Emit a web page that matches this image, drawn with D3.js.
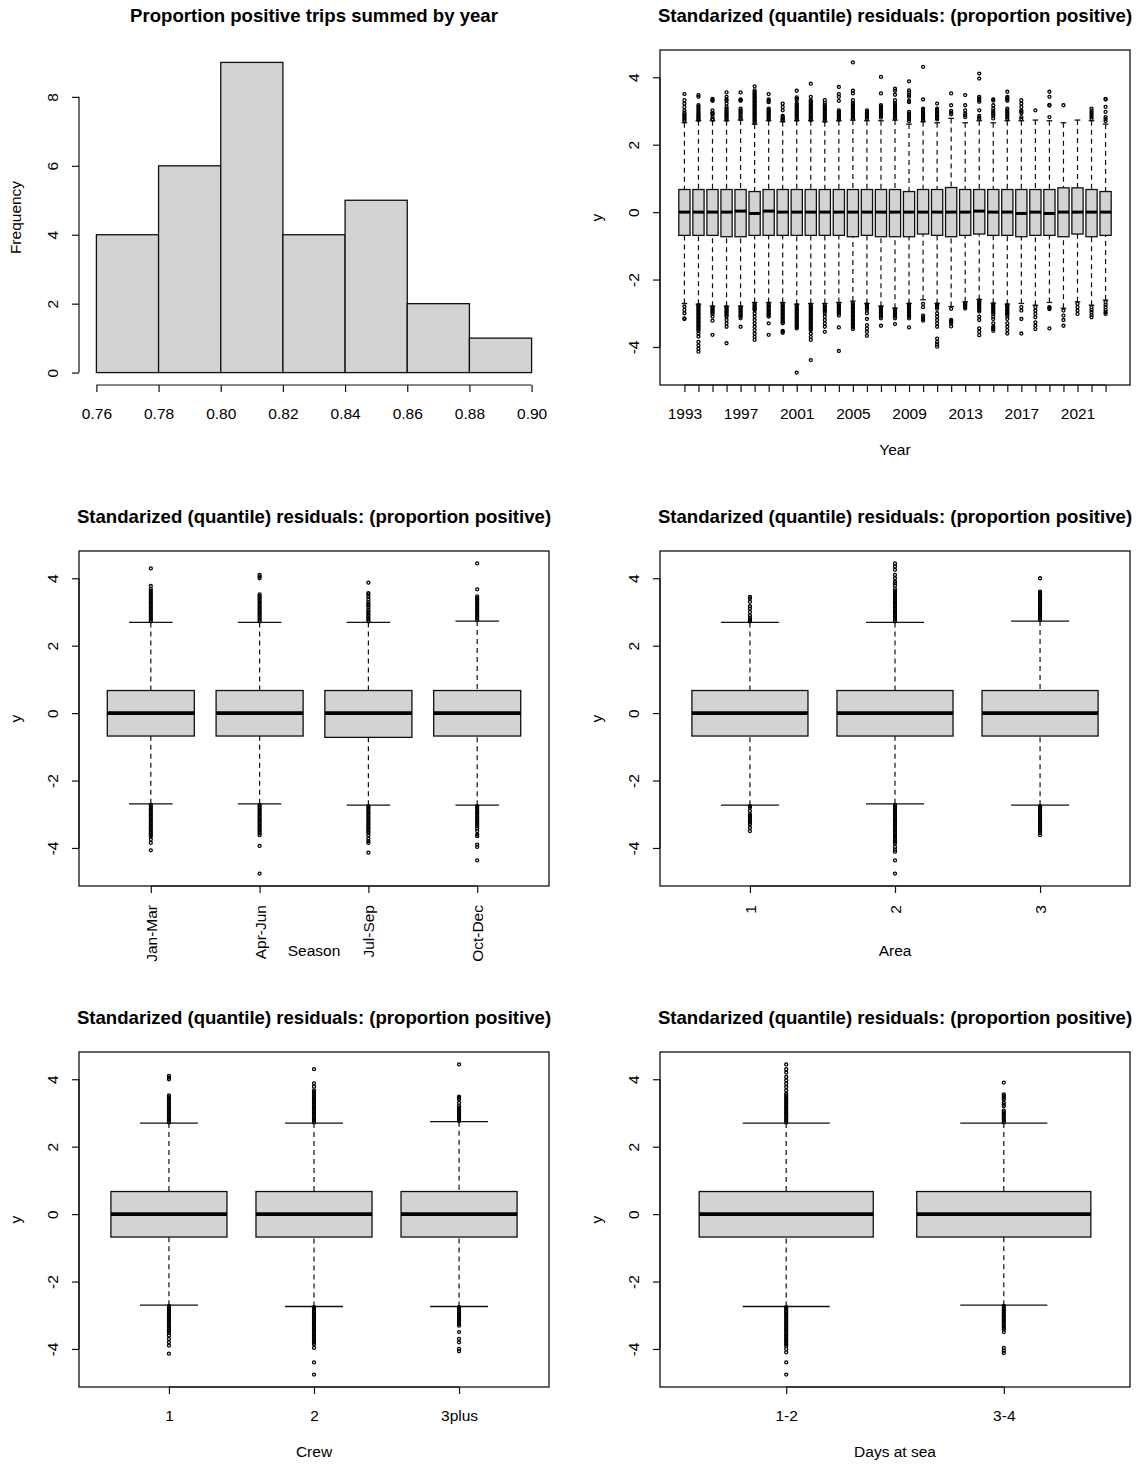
<!DOCTYPE html>
<html>
<head>
<meta charset="utf-8">
<script src="https://cdn.jsdelivr.net/npm/d3@7"></script>
<style>
  body { margin: 0; background: #fff; }
  text { font-family: "Liberation Sans", Arial, sans-serif; fill: #000; }
</style>
</head>
<body>
<svg id="chart" width="1138" height="1464"></svg>
<script>
// ---- histogram ----
const histBreaks = [0.76, 0.78, 0.80, 0.82, 0.84, 0.86, 0.88, 0.90];
const histCounts = [4, 6, 9, 4, 5, 2, 1];
const histYTicks = [0, 2, 4, 6, 8];

// ---- residual axis ticks ----
const resTicks = [-4, -2, 0, 2, 4];

// ---- year ----
const years = [1993,1994,1995,1996,1997,1998,1999,2000,2001,2002,2003,2004,2005,2006,2007,2008,
  2009,2010,2011,2012,2013,2014,2015,2016,2017,2018,2019,2020,2021,2022,2023];
const yearLabels = [1993, 1997, 2001, 2005, 2009, 2013, 2017, 2021];
const yearLo = [-2.71,-2.73,-2.79,-2.79,-2.79,-2.68,-2.68,-2.68,-2.73,-2.71,-2.71,-2.68,-2.64,-2.71,-2.79,-2.85,
  -2.71,-2.6,-2.71,-2.8,-2.66,-2.59,-2.7,-2.73,-2.71,-2.76,-2.68,-2.85,-2.66,-2.76,-2.61];
const yearQ1 = [-0.69,-0.69,-0.69,-0.73,-0.73,-0.69,-0.69,-0.69,-0.69,-0.69,-0.69,-0.69,-0.73,-0.69,-0.73,-0.73,
  -0.73,-0.65,-0.69,-0.73,-0.69,-0.65,-0.69,-0.69,-0.73,-0.69,-0.69,-0.73,-0.65,-0.73,-0.69];
const yearMed = [0,0,0,0,0.03,-0.04,0.03,0,0,0,0,0,0,0,0,0,0,0,0,0,0,0.03,0,0,-0.04,0,-0.04,0,0,0,0];
const yearQ3 = [0.67,0.67,0.67,0.67,0.67,0.61,0.67,0.67,0.67,0.67,0.67,0.67,0.67,0.67,0.67,0.67,
  0.61,0.67,0.67,0.73,0.67,0.67,0.67,0.67,0.67,0.67,0.67,0.72,0.72,0.67,0.61];
const yearHi = [2.65,2.71,2.71,2.71,2.73,2.61,2.71,2.68,2.71,2.71,2.68,2.71,2.73,2.71,2.71,2.73,
  2.61,2.68,2.65,2.78,2.65,2.71,2.65,2.71,2.71,2.73,2.71,2.65,2.73,2.71,2.61];
const yearOutHi = [
  [3.5,3.32,3.22,3.12,3.02,2.95,2.9,2.86,2.82,2.78,2.74,2.7],
  [3.47,3.42,3.17,3.12,3.07,3.02,2.97,2.92,2.88,2.84,2.8,2.76,2.73],
  [3.36,3.32,3.3,3.02,2.94,2.92,2.9,2.82,2.76,2.74],
  [3.55,3.42,3.34,3.3,3.22,3.12,3.07,3.02,2.98,2.94,2.9,2.86,2.82,2.78,2.74],
  [3.55,3.34,3.32,3.3,3.07,3.02,2.97,2.92,2.86,2.8,2.76],
  [3.73,3.61,3.56,3.52,3.48,3.44,3.4,3.36,3.32,3.28,3.24,3.2,3.16,3.12,3.08,3.04,3.0,2.96,2.92,2.88,2.84,2.8,2.76,2.72,2.68,2.64],
  [3.5,3.34,3.3,3.26,3.07,3.03,2.99,2.95,2.91,2.87,2.83,2.79,2.75],
  [3.22,3.12,3.02,2.85,2.82,2.78,2.75,2.72],
  [3.6,3.4,3.36,3.32,3.22,3.18,3.14,3.1,3.06,3.02,2.98,2.94,2.9,2.86,2.82,2.78,2.74],
  [3.81,3.42,3.32,3.28,3.24,3.2,3.16,3.12,3.08,3.04,3.0,2.96,2.92,2.88,2.84,2.8,2.76,2.73],
  [3.32,3.24,3.17,3.13,3.09,3.05,3.01,2.97,2.93,2.89,2.85,2.8,2.75,2.71],
  [3.71,3.5,3.42,3.3,3.02,2.98,2.94,2.9,2.86,2.82,2.78,2.74],
  [4.44,3.6,3.52,3.32,3.24,3.2,3.16,3.12,3.08,3.04,3.0,2.96,2.92,2.88,2.84,2.8,2.76],
  [3.02,2.97,2.92,2.88,2.84,2.8,2.76],
  [4.01,3.52,3.17,3.13,3.09,3.05,3.01,2.97,2.93,2.89,2.85,2.8],
  [3.66,3.6,3.48,3.32,3.24,3.2,3.16,3.12,3.08,3.04,3.0,2.96,2.92,2.88,2.84,2.8,2.76],
  [3.88,3.61,3.55,3.47,3.42,3.3,3.26,2.97,2.92,2.88,2.82,2.76,2.7],
  [4.31,3.34,3.07,3.03,2.99,2.95,2.91,2.87,2.83,2.79,2.75,2.72],
  [3.22,3.07,3.03,2.99,2.95,2.91,2.87,2.83,2.79,2.75],
  [3.52,3.17,3.0,2.95,2.9],
  [3.47,3.17,3.02,2.92,2.87,2.82],
  [4.11,3.96,3.42,3.37,3.32,3.27,3.02,2.85,2.8,2.76],
  [3.34,3.31,3.17,3.07,3.0,2.95,2.9,2.85,2.78],
  [3.57,3.42,3.38,3.34,3.3,3.07,3.02,2.97,2.92,2.87,2.82,2.77],
  [3.32,3.22,3.12,3.02,2.98,2.94,2.82,2.76],
  [3.02],
  [3.57,3.42,3.18,3.16,2.82],
  [3.17],
  [],
  [3.07,3.0,2.94,2.88,2.82,2.76],
  [3.36,3.34,3.12,2.97,2.82,2.76,2.7]
];
const yearOutLo = [
  [-2.8,-2.9,-3.0,-3.15,-3.17],
  [-2.76,-2.8,-2.84,-2.88,-2.92,-2.96,-3.0,-3.04,-3.08,-3.12,-3.16,-3.2,-3.24,-3.28,-3.32,-3.36,-3.4,-3.44,-3.48,-3.52,-3.6,-3.69,-3.85,-3.95,-4.05,-4.14],
  [-2.82,-2.86,-2.9,-2.94,-2.98,-3.02,-3.1,-3.22,-3.64],
  [-2.82,-2.86,-2.9,-2.94,-2.98,-3.02,-3.06,-3.1,-3.2,-3.3,-3.4,-3.89],
  [-2.82,-2.86,-2.9,-2.94,-2.98,-3.02,-3.06,-3.1,-3.15,-3.4],
  [-2.72,-2.76,-2.8,-2.84,-2.88,-2.9,-3.0,-3.1,-3.2,-3.3,-3.4,-3.5,-3.6,-3.7,-3.79],
  [-2.72,-2.76,-2.8,-2.84,-2.88,-2.92,-2.96,-3.0,-3.04,-3.08,-3.1,-3.3,-3.64],
  [-2.72,-2.76,-2.8,-2.84,-2.88,-2.92,-2.96,-3.0,-3.04,-3.08,-3.12,-3.16,-3.2,-3.24,-3.28,-3.3,-3.52,-3.55,-3.58],
  [-2.77,-2.81,-2.85,-2.89,-2.93,-2.97,-3.01,-3.05,-3.09,-3.13,-3.17,-3.21,-3.25,-3.29,-3.33,-3.37,-3.41,-3.45,-4.76],
  [-2.75,-2.79,-2.83,-2.87,-2.91,-2.95,-2.99,-3.03,-3.07,-3.11,-3.15,-3.19,-3.23,-3.27,-3.31,-3.35,-3.39,-3.43,-3.47,-3.5,-3.6,-3.7,-3.79,-4.39],
  [-2.76,-2.8,-2.85,-2.9,-2.95,-3.0,-3.1,-3.2,-3.3,-3.4,-3.55],
  [-2.73,-2.77,-2.81,-2.85,-2.89,-2.93,-2.97,-3.01,-3.07,-3.42,-4.12],
  [-2.7,-2.74,-2.78,-2.82,-2.86,-2.9,-2.94,-2.98,-3.02,-3.06,-3.1,-3.14,-3.18,-3.22,-3.26,-3.3,-3.34,-3.38,-3.42,-3.47],
  [-2.74,-2.78,-2.82,-2.86,-2.9,-3.0,-3.17,-3.35,-3.45,-3.55,-3.67],
  [-2.82,-2.86,-2.9,-2.94,-2.98,-3.02,-3.06,-3.1,-3.15,-3.37],
  [-2.88,-2.92,-2.96,-3.0,-3.05,-3.1,-3.15,-3.32],
  [-2.74,-2.78,-2.82,-2.86,-2.9,-2.94,-2.98,-3.02,-3.06,-3.1,-3.15,-3.42],
  [-2.72,-2.82,-3.07,-3.12,-3.17,-3.22],
  [-2.74,-2.78,-2.82,-2.87,-3.0,-3.1,-3.2,-3.3,-3.4,-3.75,-3.85,-3.92,-3.99],
  [-2.87,-3.2,-3.22,-3.26,-3.3,-3.39],
  [-2.7,-2.74,-2.78,-2.82,-2.86],
  [-2.62,-2.66,-2.7,-2.74,-2.78,-2.82,-2.86,-2.9,-2.95,-3.1,-3.2,-3.45,-3.55,-3.65],
  [-2.74,-2.78,-2.82,-2.86,-2.9,-2.94,-2.98,-3.02,-3.1,-3.17,-3.3,-3.4,-3.44,-3.47,-3.52],
  [-2.76,-2.8,-2.84,-2.88,-2.92,-2.96,-3.0,-3.04,-3.08,-3.17,-3.3,-3.4,-3.5,-3.6],
  [-2.82,-2.92,-3.17,-3.6],
  [-2.82,-2.92,-3.02,-3.12,-3.27,-3.37,-3.47],
  [-2.82,-2.84,-2.88,-3.45],
  [-2.92,-3.07,-3.2,-3.37],
  [-2.72,-2.82,-2.92,-3.02],
  [-2.82,-2.9,-2.97,-3.05,-3.12],
  [-2.67,-2.75,-2.82,-2.9,-2.97,-3.02]
];

// ---- season ----
const seasons = ["Jan-Mar", "Apr-Jun", "Jul-Sep", "Oct-Dec"];
const seasonLo = [-2.69, -2.69, -2.73, -2.73];
const seasonQ1 = [-0.68, -0.68, -0.72, -0.68];
const seasonMed = [0, 0, 0, 0];
const seasonQ3 = [0.67, 0.67, 0.67, 0.67];
const seasonHi = [2.69, 2.69, 2.69, 2.73];
const seasonOutHi = [
  [2.72,2.77,2.82,2.87,2.92,2.97,3.02,3.07,3.12,3.17,3.22,3.27,3.32,3.37,3.42,3.47,3.52,3.57,3.62,3.68,3.77,4.29],
  [2.72,2.77,2.82,2.87,2.92,2.97,3.02,3.07,3.12,3.17,3.22,3.27,3.32,3.37,3.42,3.47,3.52,4.0,4.05,4.1],
  [2.72,2.77,2.82,2.87,2.92,2.97,3.02,3.07,3.15,3.2,3.25,3.3,3.38,3.45,3.52,3.56,3.87],
  [2.76,2.81,2.86,2.91,2.96,3.01,3.06,3.11,3.16,3.21,3.26,3.31,3.36,3.41,3.46,3.67,4.44]
];
const seasonOutLo = [
  [-2.72,-2.77,-2.82,-2.87,-2.92,-2.97,-3.02,-3.07,-3.12,-3.17,-3.22,-3.27,-3.32,-3.37,-3.42,-3.47,-3.52,-3.57,-3.62,-3.66,-3.75,-3.85,-4.07],
  [-2.72,-2.77,-2.82,-2.87,-2.92,-2.97,-3.02,-3.07,-3.12,-3.17,-3.22,-3.27,-3.32,-3.37,-3.42,-3.47,-3.52,-3.57,-3.62,-3.94,-4.76],
  [-2.76,-2.81,-2.86,-2.91,-2.96,-3.01,-3.06,-3.11,-3.16,-3.21,-3.26,-3.31,-3.36,-3.41,-3.46,-3.51,-3.56,-3.62,-3.72,-3.8,-3.85,-4.14],
  [-2.76,-2.81,-2.86,-2.91,-2.96,-3.01,-3.06,-3.11,-3.16,-3.21,-3.26,-3.31,-3.36,-3.42,-3.5,-3.6,-3.65,-3.9,-3.97,-4.37]
];

// ---- area ----
const areas = ["1", "2", "3"];
const areaLo = [-2.73, -2.69, -2.73];
const areaQ1 = [-0.68, -0.68, -0.68];
const areaMed = [0, 0, 0];
const areaQ3 = [0.67, 0.67, 0.67];
const areaHi = [2.69, 2.69, 2.73];
const areaOutHi = [
  [2.72,2.75,2.78,2.83,2.9,3.0,3.1,3.17,3.3,3.4,3.45],
  [2.72,2.77,2.82,2.87,2.92,2.97,3.02,3.07,3.12,3.17,3.22,3.27,3.32,3.37,3.42,3.47,3.52,3.57,3.62,3.68,3.78,3.85,3.9,4.0,4.1,4.25,4.35,4.44],
  [2.76,2.81,2.86,2.91,2.96,3.01,3.06,3.11,3.16,3.21,3.26,3.31,3.36,3.41,3.46,3.51,3.56,3.6,4.0]
];
const areaOutLo = [
  [-2.76,-2.8,-2.9,-3.0,-3.05,-3.1,-3.15,-3.2,-3.25,-3.3,-3.4,-3.5],
  [-2.72,-2.77,-2.82,-2.87,-2.92,-2.97,-3.02,-3.07,-3.12,-3.17,-3.22,-3.27,-3.32,-3.37,-3.42,-3.47,-3.52,-3.57,-3.62,-3.67,-3.72,-3.77,-3.82,-3.87,-3.97,-4.05,-4.11,-4.37,-4.76],
  [-2.76,-2.81,-2.86,-2.91,-2.96,-3.01,-3.06,-3.11,-3.16,-3.21,-3.26,-3.31,-3.36,-3.41,-3.46,-3.51,-3.55,-3.62]
];

// ---- crew ----
const crews = ["1", "2", "3plus"];
const crewLo = [-2.7, -2.74, -2.74];
const crewQ1 = [-0.68, -0.68, -0.68];
const crewMed = [0, 0, 0];
const crewQ3 = [0.67, 0.67, 0.67];
const crewHi = [2.7, 2.7, 2.74];
const crewOutHi = [
  [2.72,2.77,2.82,2.87,2.92,2.97,3.02,3.07,3.12,3.17,3.22,3.27,3.32,3.37,3.42,3.47,3.52,4.0,4.05,4.1],
  [2.72,2.77,2.82,2.87,2.92,2.97,3.02,3.07,3.12,3.17,3.22,3.27,3.32,3.37,3.42,3.47,3.52,3.57,3.62,3.67,3.78,3.88,4.3],
  [2.76,2.81,2.86,2.91,2.96,3.01,3.06,3.11,3.16,3.21,3.3,3.4,3.45,3.48,4.44]
];
const crewOutLo = [
  [-2.72,-2.77,-2.82,-2.87,-2.92,-2.97,-3.02,-3.07,-3.12,-3.17,-3.22,-3.27,-3.32,-3.37,-3.42,-3.47,-3.52,-3.6,-3.7,-3.8,-3.9,-4.14],
  [-2.76,-2.81,-2.86,-2.91,-2.96,-3.01,-3.06,-3.11,-3.16,-3.21,-3.26,-3.31,-3.36,-3.41,-3.46,-3.51,-3.56,-3.61,-3.66,-3.71,-3.76,-3.81,-3.86,-3.97,-4.4,-4.76],
  [-2.76,-2.81,-2.86,-2.91,-2.96,-3.01,-3.06,-3.11,-3.16,-3.21,-3.26,-3.31,-3.5,-3.7,-3.8,-4.0,-4.07]
];

// ---- days at sea ----
const days = ["1-2", "3-4"];
const daysLo = [-2.74, -2.7];
const daysQ1 = [-0.68, -0.68];
const daysMed = [0, 0];
const daysQ3 = [0.67, 0.67];
const daysHi = [2.7, 2.7];
const daysOutHi = [
  [2.72,2.77,2.82,2.87,2.92,2.97,3.02,3.07,3.12,3.17,3.22,3.27,3.32,3.37,3.42,3.47,3.52,3.57,3.67,3.77,3.87,3.97,4.07,4.2,4.3,4.44],
  [2.72,2.77,2.82,2.87,2.92,2.97,3.02,3.07,3.2,3.25,3.3,3.4,3.45,3.5,3.55,3.9]
];
const daysOutLo = [
  [-2.76,-2.81,-2.86,-2.91,-2.96,-3.01,-3.06,-3.11,-3.16,-3.21,-3.26,-3.31,-3.36,-3.41,-3.46,-3.51,-3.56,-3.61,-3.66,-3.71,-3.76,-3.81,-3.86,-3.91,-4.0,-4.1,-4.4,-4.76],
  [-2.72,-2.77,-2.82,-2.87,-2.92,-2.97,-3.02,-3.07,-3.12,-3.17,-3.22,-3.27,-3.32,-3.37,-3.42,-3.5,-3.97,-4.05,-4.12]
];

// ---- layout ----
const L = 79, R = 549, T = 50, B = 385;
const colX = [0, 581];
const rowY = [0, 501, 1002];
const FONT = '"Liberation Sans", Arial, sans-serif';
const FS = 15.5;
const INK = "#111";
const $svg = d3.select("#chart");

function panel(c, r) {
  return $svg.append("g").attr("transform", `translate(${colX[c]}, ${rowY[r]})`);
}

function addTitle($g, txt) {
  $g.append("text")
    .attr("x", (L + R) / 2)
    .attr("y", 22)
    .attr("text-anchor", "middle")
    .attr("font-size", 18.6)
    .attr("font-weight", "bold")
    .text(txt);
}

function addXTitle($g, txt) {
  $g.append("text")
    .attr("x", (L + R) / 2)
    .attr("y", 455)
    .attr("text-anchor", "middle")
    .attr("font-size", FS)
    .text(txt);
}

function addYTitle($g, txt) {
  $g.append("text")
    .attr("transform", `translate(21, ${(T + B) / 2}) rotate(-90)`)
    .attr("text-anchor", "middle")
    .attr("font-size", FS)
    .text(txt);
}

function styleAxis($ax) {
  $ax.attr("font-family", FONT).attr("font-size", FS);
  $ax.selectAll("line").attr("stroke", INK).attr("stroke-width", 1.2);
  $ax.select(".domain").attr("stroke", INK).attr("stroke-width", 1.2);
  $ax.selectAll("text").attr("fill", INK);
}

function leftAxis($g, y, ticks) {
  const $ax = $g.append("g")
    .attr("transform", `translate(${L}, 0)`)
    .call(d3.axisLeft(y).tickValues(ticks).tickFormat((d) => String(d)).tickSize(7).tickSizeOuter(0));
  $ax.select(".domain").attr("d", `M0,${y(ticks[0])}V${y(ticks[ticks.length - 1])}`);
  $ax.selectAll(".tick text")
    .attr("x", 0)
    .attr("dy", 0)
    .attr("text-anchor", "middle")
    .attr("transform", "translate(-21, 0) rotate(-90)");
  styleAxis($ax);
}

function bottomAxis($g, x, ticks, fmt, rotate) {
  const $ax = $g.append("g")
    .attr("transform", `translate(0, ${B})`)
    .call(d3.axisBottom(x).tickValues(ticks).tickFormat(fmt).tickSize(7).tickSizeOuter(0));
  $ax.select(".domain").attr("d", `M${x(ticks[0])},0H${x(ticks[ticks.length - 1])}`);
  if (rotate) {
    $ax.selectAll(".tick text")
      .attr("y", 0)
      .attr("dy", "0.35em")
      .attr("text-anchor", "end")
      .attr("transform", "translate(0, 19) rotate(-90)");
  } else {
    $ax.selectAll(".tick text").attr("y", 34).attr("dy", 0);
  }
  styleAxis($ax);
}

// ---- histogram panel ----
function drawHistogram() {
  const $g = panel(0, 0);
  const x0 = histBreaks[0], x1 = histBreaks[histBreaks.length - 1];
  const xPad = 0.04 * (x1 - x0);
  const x = d3.scaleLinear().domain([x0 - xPad, x1 + xPad]).range([L, R]);
  const yMax = d3.max(histCounts);
  const y = d3.scaleLinear().domain([-0.04 * yMax, yMax * 1.04]).range([B, T]);

  $g.selectAll(".mz-bar")
    .data(histCounts)
    .join("rect")
    .classed("mz-bar", true)
    .attr("x", (d, i) => x(histBreaks[i]))
    .attr("width", (d, i) => x(histBreaks[i + 1]) - x(histBreaks[i]))
    .attr("y", (d) => y(d))
    .attr("height", (d) => y(0) - y(d))
    .attr("fill", "#d3d3d3")
    .attr("stroke", INK)
    .attr("stroke-width", 1.3);

  leftAxis($g, y, histYTicks);
  bottomAxis($g, x, histBreaks, d3.format(".2f"), false);
  addTitle($g, "Proportion positive trips summed by year");
  addYTitle($g, "Frequency");
}

// ---- boxplot panels ----
function drawBoxplot(c, r, cats, lo, q1, med, q3, hi, outHi, outLo, opts) {
  const $g = panel(c, r);
  const n = cats.length;
  const x = d3.scaleLinear().domain([0.5 - 0.04 * n, n + 0.5 + 0.04 * n]).range([L, R]);
  const all = lo.concat(hi, d3.merge(outHi), d3.merge(outLo));
  const [mn, mx] = d3.extent(all);
  const pad = 0.04 * (mx - mn);
  const y = d3.scaleLinear().domain([mn - pad, mx + pad]).range([B, T]);
  const hw = x(1.4) - x(1);

  const boxes = cats.map((cat, i) => ({
    pos: i + 1, lo: lo[i], q1: q1[i], med: med[i], q3: q3[i], hi: hi[i],
    out: outHi[i].concat(outLo[i])
  }));

  const $b = $g.selectAll(".mz-box").data(boxes).join("g").classed("mz-box", true);

  // whiskers (dashed), drawn from whisker end toward the box
  [["hi", "q3"], ["lo", "q1"]].forEach(([a, b]) => {
    $b.append("line")
      .attr("x1", (d) => x(d.pos)).attr("x2", (d) => x(d.pos))
      .attr("y1", (d) => y(d[a])).attr("y2", (d) => y(d[b]))
      .attr("stroke", INK).attr("stroke-width", 1.2)
      .attr("stroke-dasharray", "5,4");
    $b.append("line")
      .attr("x1", (d) => x(d.pos) - hw / 2).attr("x2", (d) => x(d.pos) + hw / 2)
      .attr("y1", (d) => y(d[a])).attr("y2", (d) => y(d[a]))
      .attr("stroke", INK).attr("stroke-width", 1.3);
  });

  $b.append("rect")
    .attr("x", (d) => x(d.pos) - hw)
    .attr("width", 2 * hw)
    .attr("y", (d) => y(d.q3))
    .attr("height", (d) => y(d.q1) - y(d.q3))
    .attr("fill", "#d3d3d3")
    .attr("stroke", INK)
    .attr("stroke-width", 1.3);

  $b.append("line")
    .attr("x1", (d) => x(d.pos) - hw).attr("x2", (d) => x(d.pos) + hw)
    .attr("y1", (d) => y(d.med)).attr("y2", (d) => y(d.med))
    .attr("stroke", "#000")
    .attr("stroke-width", opts.medWidth || 3.6);

  $b.selectAll("circle")
    .data((d) => d.out.map((v) => ({ pos: d.pos, v })))
    .join("circle")
    .attr("cx", (d) => x(d.pos))
    .attr("cy", (d) => y(d.v))
    .attr("r", 1.5)
    .attr("fill", "none")
    .attr("stroke", "#000")
    .attr("stroke-width", 1.3);

  // frame
  $g.append("rect")
    .attr("x", L).attr("y", T)
    .attr("width", R - L).attr("height", B - T)
    .attr("fill", "none")
    .attr("stroke", INK)
    .attr("stroke-width", 1.3);

  leftAxis($g, y, resTicks);
  const pos = d3.range(1, n + 1);
  const fmt = opts.labelFilter
    ? (p) => (opts.labelFilter.includes(+cats[p - 1]) ? cats[p - 1] : "")
    : (p) => cats[p - 1];
  bottomAxis($g, x, pos, fmt, opts.rotate);

  addTitle($g, "Standarized (quantile) residuals: (proportion positive)");
  addYTitle($g, "y");
  addXTitle($g, opts.xTitle);
}

drawHistogram();
drawBoxplot(1, 0, years.map(String), yearLo, yearQ1, yearMed, yearQ3, yearHi, yearOutHi, yearOutLo,
  { xTitle: "Year", labelFilter: yearLabels, medWidth: 3 });
drawBoxplot(0, 1, seasons, seasonLo, seasonQ1, seasonMed, seasonQ3, seasonHi, seasonOutHi, seasonOutLo,
  { xTitle: "Season", rotate: true });
drawBoxplot(1, 1, areas, areaLo, areaQ1, areaMed, areaQ3, areaHi, areaOutHi, areaOutLo,
  { xTitle: "Area", rotate: true });
drawBoxplot(0, 2, crews, crewLo, crewQ1, crewMed, crewQ3, crewHi, crewOutHi, crewOutLo,
  { xTitle: "Crew" });
drawBoxplot(1, 2, days, daysLo, daysQ1, daysMed, daysQ3, daysHi, daysOutHi, daysOutLo,
  { xTitle: "Days at sea" });
</script>
</body>
</html>
